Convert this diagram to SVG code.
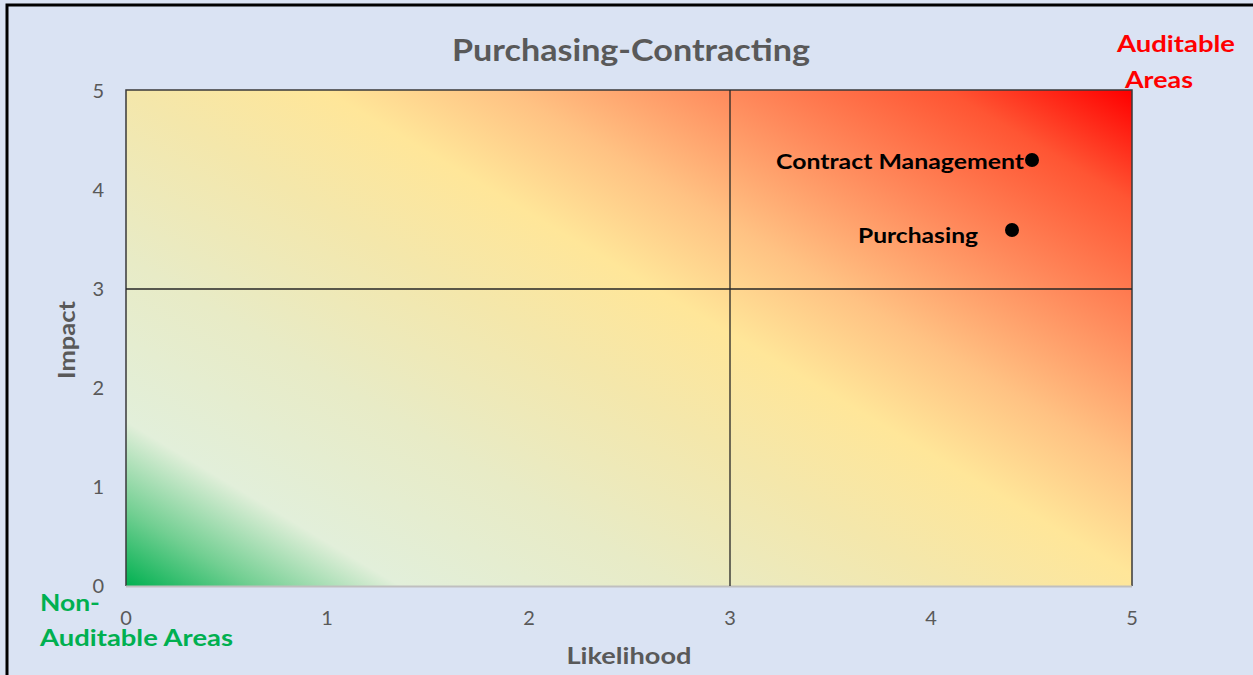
<svg xmlns="http://www.w3.org/2000/svg" width="1253" height="675" viewBox="0 0 1253 675">
  <defs>
    <linearGradient id="heat" gradientUnits="userSpaceOnUse" x1="126" y1="586" x2="610" y2="-221">
      <stop offset="0" stop-color="#00b050"/>
      <stop offset="0.07" stop-color="#72cf92"/>
      <stop offset="0.15" stop-color="#e2efda"/>
      <stop offset="0.3" stop-color="#e8ebc6"/>
      <stop offset="0.45" stop-color="#f4e7ab"/>
      <stop offset="0.56" stop-color="#ffe699"/>
      <stop offset="0.66" stop-color="#ffc283"/>
      <stop offset="0.78" stop-color="#ff8a5c"/>
      <stop offset="0.9" stop-color="#ff5533"/>
      <stop offset="1" stop-color="#ff0000"/>
    </linearGradient>
    <style>
      .tick { font-family: Lato, "Liberation Sans", sans-serif; font-size: 20px; fill: #595959; }
      .axt { font-family: Lato, "Liberation Sans", sans-serif; font-size: 22px; font-weight: bold; fill: #595959; }
      .lbl { font-family: Lato, "Liberation Sans", sans-serif; font-size: 21px; font-weight: bold; fill: #000000; }
      .red { font-family: Lato, "Liberation Sans", sans-serif; font-size: 23px; font-weight: bold; fill: #ff0000; }
      .grn { font-family: Lato, "Liberation Sans", sans-serif; font-size: 23px; font-weight: bold; fill: #00b050; }
      .grid { stroke: #262626; stroke-width: 1.3; fill: none; }
      .dot { fill: #000000; }
    </style>
  </defs>

  <!-- background and frame -->
  <rect x="0" y="0" width="1253" height="675" fill="#dae3f3"/>
  <path d="M7,675 V5 H1253" fill="none" stroke="#000000" stroke-width="3"/>

  <!-- title -->
  <text x="631" y="61" text-anchor="middle" font-family="Lato, 'Liberation Sans', sans-serif" font-size="30" font-weight="bold" fill="#595959" textLength="358" lengthAdjust="spacingAndGlyphs">Purchasing-Contracting</text>

  <!-- plot area -->
  <g id="plot">
    <rect x="126" y="90" width="1006" height="496" fill="url(#heat)"/>
    <path d="M126,586 V90 H1132 V586" fill="none" stroke="#3a3a3a" stroke-width="1.5"/>
    <line x1="126" y1="586.5" x2="1132" y2="586.5" stroke="#bfbfbf" stroke-width="2"/>
  </g>

  <g id="gridlines">
    <line class="grid" x1="730" y1="90" x2="730" y2="586"/>
    <line class="grid" x1="126" y1="289" x2="1132" y2="289"/>
  </g>

  <!-- y ticks -->
  <g id="y-axis">
    <text class="tick" x="104" y="98" text-anchor="end">5</text>
    <text class="tick" x="104" y="197" text-anchor="end">4</text>
    <text class="tick" x="104" y="296" text-anchor="end">3</text>
    <text class="tick" x="104" y="395" text-anchor="end">2</text>
    <text class="tick" x="104" y="494" text-anchor="end">1</text>
    <text class="tick" x="104" y="593" text-anchor="end">0</text>
    <text class="axt" transform="translate(75,340) rotate(-90)" text-anchor="middle" textLength="78" lengthAdjust="spacingAndGlyphs">Impact</text>
  </g>

  <!-- x ticks -->
  <g id="x-axis">
    <text class="tick" x="126" y="625" text-anchor="middle">0</text>
    <text class="tick" x="327" y="625" text-anchor="middle">1</text>
    <text class="tick" x="529" y="625" text-anchor="middle">2</text>
    <text class="tick" x="730" y="625" text-anchor="middle">3</text>
    <text class="tick" x="931" y="625" text-anchor="middle">4</text>
    <text class="tick" x="1132" y="625" text-anchor="middle">5</text>
    <text class="axt" x="629" y="664" text-anchor="middle" textLength="125" lengthAdjust="spacingAndGlyphs">Likelihood</text>
  </g>

  <!-- data points -->
  <g id="node-contract-management">
    <circle class="dot" cx="1032" cy="160" r="7"/>
    <text class="lbl" x="776" y="169" textLength="248" lengthAdjust="spacingAndGlyphs">Contract Management</text>
  </g>
  <g id="node-purchasing">
    <circle class="dot" cx="1012" cy="230" r="7"/>
    <text class="lbl" x="858" y="243" textLength="120" lengthAdjust="spacingAndGlyphs">Purchasing</text>
  </g>

  <!-- zone labels -->
  <g id="label-auditable">
    <text class="red" x="1117" y="52" textLength="118" lengthAdjust="spacingAndGlyphs">Auditable</text>
    <text class="red" x="1125" y="88" textLength="68" lengthAdjust="spacingAndGlyphs">Areas</text>
  </g>
  <g id="label-non-auditable">
    <text class="grn" x="40" y="611" textLength="60" lengthAdjust="spacingAndGlyphs">Non-</text>
    <text class="grn" x="40" y="646" textLength="193" lengthAdjust="spacingAndGlyphs">Auditable Areas</text>
  </g>
</svg>
